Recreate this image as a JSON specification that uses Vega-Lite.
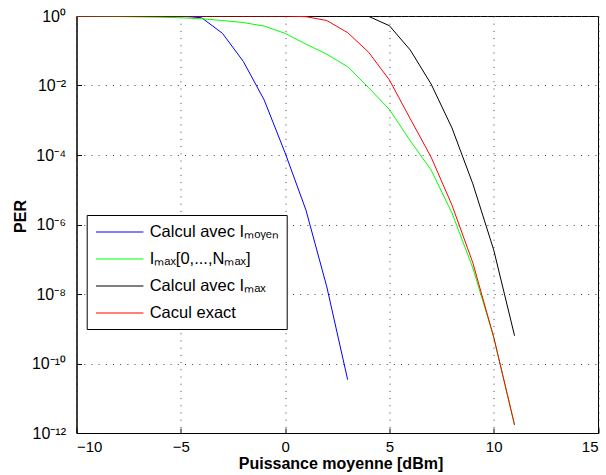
{
  "$schema": "https://vega.github.io/schema/vega-lite/v6.json",
  "width": 521.5,
  "height": 417,
  "autosize": {"type": "none"},
  "padding": {"left": 76.5, "top": 16, "right": 8, "bottom": 42},
  "background": "white",
  "config": {
    "font": "Liberation Sans",
    "view": {"stroke": "black", "strokeWidth": 1}
  },
  "data": {
    "values": [
      {"x": -10, "per": 1, "s": "Calcul avec Iₘₒᵧₑₙ"},
      {"x": -9, "per": 1, "s": "Calcul avec Iₘₒᵧₑₙ"},
      {"x": -8, "per": 1, "s": "Calcul avec Iₘₒᵧₑₙ"},
      {"x": -7, "per": 0.9995, "s": "Calcul avec Iₘₒᵧₑₙ"},
      {"x": -6, "per": 0.999, "s": "Calcul avec Iₘₒᵧₑₙ"},
      {"x": -5, "per": 0.995, "s": "Calcul avec Iₘₒᵧₑₙ"},
      {"x": -4, "per": 0.89, "s": "Calcul avec Iₘₒᵧₑₙ"},
      {"x": -3, "per": 0.316, "s": "Calcul avec Iₘₒᵧₑₙ"},
      {"x": -2, "per": 0.049, "s": "Calcul avec Iₘₒᵧₑₙ"},
      {"x": -1, "per": 0.0038, "s": "Calcul avec Iₘₒᵧₑₙ"},
      {"x": 0, "per": 0.000115, "s": "Calcul avec Iₘₒᵧₑₙ"},
      {"x": 1, "per": 2.6e-6, "s": "Calcul avec Iₘₒᵧₑₙ"},
      {"x": 2, "per": 1.6e-8, "s": "Calcul avec Iₘₒᵧₑₙ"},
      {"x": 3, "per": 3.4e-11, "s": "Calcul avec Iₘₒᵧₑₙ"},

      {"x": -10, "per": 0.9886, "s": "Iₘₐₓ[0,...,Nₘₐₓ]"},
      {"x": -9, "per": 0.977, "s": "Iₘₐₓ[0,...,Nₘₐₓ]"},
      {"x": -8, "per": 0.966, "s": "Iₘₐₓ[0,...,Nₘₐₓ]"},
      {"x": -7, "per": 0.944, "s": "Iₘₐₓ[0,...,Nₘₐₓ]"},
      {"x": -6, "per": 0.923, "s": "Iₘₐₓ[0,...,Nₘₐₓ]"},
      {"x": -5, "per": 0.891, "s": "Iₘₐₓ[0,...,Nₘₐₓ]"},
      {"x": -4, "per": 0.832, "s": "Iₘₐₓ[0,...,Nₘₐₓ]"},
      {"x": -3, "per": 0.741, "s": "Iₘₐₓ[0,...,Nₘₐₓ]"},
      {"x": -2, "per": 0.646, "s": "Iₘₐₓ[0,...,Nₘₐₓ]"},
      {"x": -1, "per": 0.513, "s": "Iₘₐₓ[0,...,Nₘₐₓ]"},
      {"x": 0, "per": 0.316, "s": "Iₘₐₓ[0,...,Nₘₐₓ]"},
      {"x": 1, "per": 0.155, "s": "Iₘₐₓ[0,...,Nₘₐₓ]"},
      {"x": 2, "per": 0.0794, "s": "Iₘₐₓ[0,...,Nₘₐₓ]"},
      {"x": 3, "per": 0.0347, "s": "Iₘₐₓ[0,...,Nₘₐₓ]"},
      {"x": 4, "per": 0.0087, "s": "Iₘₐₓ[0,...,Nₘₐₓ]"},
      {"x": 5, "per": 0.00204, "s": "Iₘₐₓ[0,...,Nₘₐₓ]"},
      {"x": 6, "per": 0.000257, "s": "Iₘₐₓ[0,...,Nₘₐₓ]"},
      {"x": 7, "per": 3.7e-5, "s": "Iₘₐₓ[0,...,Nₘₐₓ]"},
      {"x": 8, "per": 2.14e-6, "s": "Iₘₐₓ[0,...,Nₘₐₓ]"},
      {"x": 9, "per": 5.6e-8, "s": "Iₘₐₓ[0,...,Nₘₐₓ]"},
      {"x": 10, "per": 5.75e-10, "s": "Iₘₐₓ[0,...,Nₘₐₓ]"},
      {"x": 11, "per": 1.7e-12, "s": "Iₘₐₓ[0,...,Nₘₐₓ]"},

      {"x": -10, "per": 1, "s": "Calcul avec Iₘₐₓ"},
      {"x": -9, "per": 1, "s": "Calcul avec Iₘₐₓ"},
      {"x": -8, "per": 1, "s": "Calcul avec Iₘₐₓ"},
      {"x": -7, "per": 1, "s": "Calcul avec Iₘₐₓ"},
      {"x": -6, "per": 1, "s": "Calcul avec Iₘₐₓ"},
      {"x": -5, "per": 1, "s": "Calcul avec Iₘₐₓ"},
      {"x": -4, "per": 1, "s": "Calcul avec Iₘₐₓ"},
      {"x": -3, "per": 1, "s": "Calcul avec Iₘₐₓ"},
      {"x": -2, "per": 1, "s": "Calcul avec Iₘₐₓ"},
      {"x": -1, "per": 1, "s": "Calcul avec Iₘₐₓ"},
      {"x": 0, "per": 1, "s": "Calcul avec Iₘₐₓ"},
      {"x": 1, "per": 1, "s": "Calcul avec Iₘₐₓ"},
      {"x": 2, "per": 1, "s": "Calcul avec Iₘₐₓ"},
      {"x": 3, "per": 1, "s": "Calcul avec Iₘₐₓ"},
      {"x": 4, "per": 0.98, "s": "Calcul avec Iₘₐₓ"},
      {"x": 5, "per": 0.525, "s": "Calcul avec Iₘₐₓ"},
      {"x": 6, "per": 0.105, "s": "Calcul avec Iₘₐₓ"},
      {"x": 7, "per": 0.011, "s": "Calcul avec Iₘₐₓ"},
      {"x": 8, "per": 0.0006, "s": "Calcul avec Iₘₐₓ"},
      {"x": 9, "per": 1.48e-5, "s": "Calcul avec Iₘₐₓ"},
      {"x": 10, "per": 1.86e-7, "s": "Calcul avec Iₘₐₓ"},
      {"x": 11, "per": 6.3e-10, "s": "Calcul avec Iₘₐₓ"},

      {"x": -10, "per": 1, "s": "Cacul exact"},
      {"x": -9, "per": 1, "s": "Cacul exact"},
      {"x": -8, "per": 1, "s": "Cacul exact"},
      {"x": -7, "per": 1, "s": "Cacul exact"},
      {"x": -6, "per": 1, "s": "Cacul exact"},
      {"x": -5, "per": 1, "s": "Cacul exact"},
      {"x": -4, "per": 1, "s": "Cacul exact"},
      {"x": -3, "per": 1, "s": "Cacul exact"},
      {"x": -2, "per": 1, "s": "Cacul exact"},
      {"x": -1, "per": 1, "s": "Cacul exact"},
      {"x": 0, "per": 1, "s": "Cacul exact"},
      {"x": 1, "per": 0.955, "s": "Cacul exact"},
      {"x": 2, "per": 0.741, "s": "Cacul exact"},
      {"x": 3, "per": 0.331, "s": "Cacul exact"},
      {"x": 4, "per": 0.0912, "s": "Cacul exact"},
      {"x": 5, "per": 0.01445, "s": "Cacul exact"},
      {"x": 6, "per": 0.0011, "s": "Cacul exact"},
      {"x": 7, "per": 8.7e-5, "s": "Cacul exact"},
      {"x": 8, "per": 3.6e-6, "s": "Cacul exact"},
      {"x": 9, "per": 7.9e-8, "s": "Cacul exact"},
      {"x": 10, "per": 5.75e-10, "s": "Cacul exact"},
      {"x": 11, "per": 1.7e-12, "s": "Cacul exact"}
    ]
  },
  "mark": {"type": "line", "strokeWidth": 1, "clip": true},
  "encoding": {
    "x": {
      "field": "x",
      "type": "quantitative",
      "scale": {"domain": [-10, 15], "nice": false, "zero": false},
      "axis": {
        "values": [-10, -5, 0, 5, 10, 15],
        "title": "Puissance moyenne [dBm]",
        "titleFontSize": 16,
        "titleFontWeight": "bold",
        "titleColor": "black",
        "titleBaseline": "alphabetic",
        "titleY": 35,
        "titleX": 264,
        "labelFontSize": 15,
        "labelColor": "black",
        "labelPadding": 11,
        "tickSize": -5,
        "tickColor": "black",
        "domainColor": "black",
        "grid": true,
        "gridColor": "#444",
        "gridDash": [1, 6.2],
        "gridOpacity": 1,
        "gridWidth": 1
      }
    },
    "y": {
      "field": "per",
      "type": "quantitative",
      "scale": {"type": "log", "domain": [1e-12, 1], "nice": false},
      "axis": {
        "values": [1e-12, 1e-10, 1e-8, 1e-6, 1e-4, 1e-2, 1],
        "labelExpr": "datum.value >= 0.5 ? '10⁰' : datum.value >= 5e-3 ? '10⁻²' : datum.value >= 5e-5 ? '10⁻⁴' : datum.value >= 5e-7 ? '10⁻⁶' : datum.value >= 5e-9 ? '10⁻⁸' : datum.value >= 5e-11 ? '10⁻¹⁰' : '10⁻¹²'",
        "title": "PER",
        "titleFontSize": 16,
        "titleFontWeight": "bold",
        "titleColor": "black",
        "titleX": -56.5,
        "titleY": 200,
        "titleBaseline": "middle",
        "labelFontSize": 16,
        "labelColor": "black",
        "labelPadding": 16,
        "tickSize": -5,
        "tickColor": "black",
        "domainColor": "black",
        "grid": true,
        "gridColor": "#444",
        "gridDash": [1, 6.2],
        "gridOpacity": 1,
        "gridWidth": 1
      }
    },
    "color": {
      "field": "s",
      "type": "nominal",
      "sort": null,
      "scale": {
        "domain": ["Calcul avec Iₘₒᵧₑₙ", "Iₘₐₓ[0,...,Nₘₐₓ]", "Calcul avec Iₘₐₓ", "Cacul exact"],
        "range": ["#0000ff", "#00ff00", "#000000", "#ff0000"]
      },
      "legend": {
        "title": null,
        "orient": "none",
        "legendX": 10.2,
        "legendY": 199,
        "fillColor": "white",
        "strokeColor": "black",
        "padding": 7,
        "labelFontSize": 16.5,
        "labelColor": "black",
        "labelLimit": 400,
        "symbolType": "M-2.5,0H2.5",
        "symbolSize": 361,
        "symbolStrokeWidth": 1,
        "symbolOffset": 16,
        "labelOffset": 20,
        "rowPadding": 8
      }
    }
  }
}
